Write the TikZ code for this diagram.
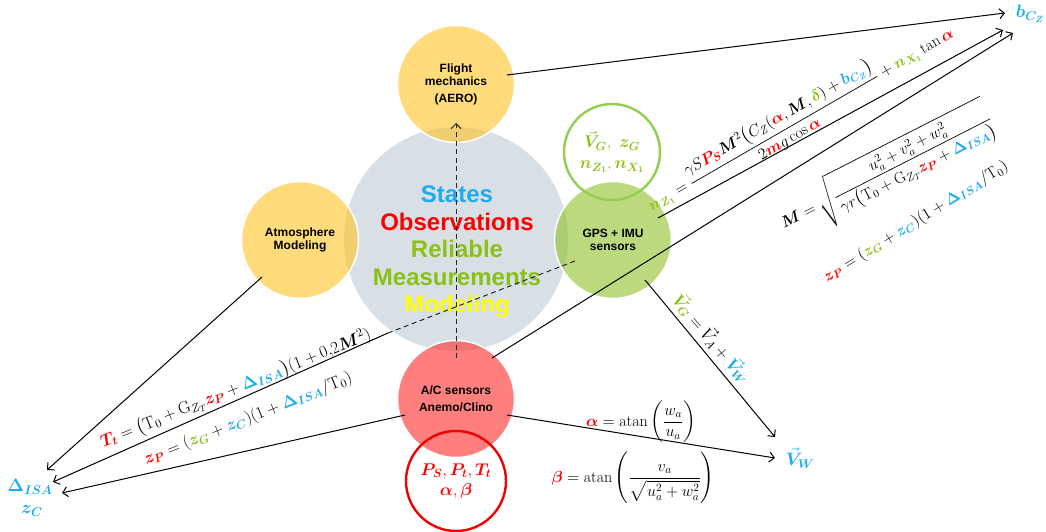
\RequirePackage{fix-cm}
\documentclass[tikz,border=0pt]{standalone}
\usepackage{amsmath}
\usepackage{fontspec}
\usepackage{bm}
\newfontfamily\arialf{Liberation Sans}
\usetikzlibrary{arrows.meta}
\definecolor{cblue}{RGB}{30,172,240}
\definecolor{cred}{RGB}{255,0,0}
\definecolor{cgreen}{RGB}{140,192,22}
\definecolor{cyell}{RGB}{255,255,0}
\definecolor{coregray}{RGB}{216,224,230}
\definecolor{byel}{RGB}{255,195,37}
\definecolor{bgrn}{RGB}{145,193,40}
\definecolor{bred}{RGB}{255,42,42}
\definecolor{ringg}{RGB}{146,206,80}
\definecolor{ringr}{RGB}{240,0,0}
\newcommand{\cR}[1]{{\color{cred}#1}}
\newcommand{\cB}[1]{{\color{cblue}#1}}
\newcommand{\cG}[1]{{\color{cgreen}#1}}
\begin{document}
\begin{tikzpicture}[x=1pt,y=-1pt,
  bub/.style={circle,inner sep=0pt,minimum size=117pt,draw=white,line width=1.5pt,fill opacity=0.6,text opacity=1,align=center,font=\arialf\bfseries\fontsize{12}{13.5}\selectfont},
  ringc/.style={circle,inner sep=0pt,line width=2.4pt,align=center,font=\fontsize{17}{20}\selectfont},
  con/.style={draw=black,line width=1pt,-{Straight Barb[length=5pt,width=10pt,line width=1pt]}},
  dsh/.style={draw=black!85,line width=1pt,dash pattern=on 5pt off 3.5pt},
  mth/.style={inner sep=1pt,font=\fontsize{16}{19}\selectfont},
  mthl/.style={inner sep=1pt,font=\fontsize{17}{20}\selectfont},
  lab/.style={inner sep=1pt,text=cblue,font=\fontsize{18}{21}\selectfont}]
\fill[white] (0,0) rectangle (1046,532);
\useasboundingbox (0,0) rectangle (1046,532);

% circles
\node[circle,inner sep=0pt,minimum size=224pt,fill=coregray] (core) at (456,239) {};
\node[bub,fill=byel] (aero) at (456,84) {Flight\\mechanics\\[3pt](AERO)};
\node[bub,fill=byel] (atm) at (300,240) {Atmosphere\\Modeling};
\node[bub,fill=bgrn] (gps) at (613,240) {GPS + IMU\\sensors};
\node[bub,fill=bred] (acs) at (456,399) {A/C sensors\\[4pt]Anemo/Clino};
\node[ringc,draw=ringg,minimum size=96pt,text=cgreen] (gring) at (612,152) {$\vec{\bm V}_{\bm G},\ \bm{z_G}$\\[1pt]$\bm{n_{Z_1}},\bm{n_{X_1}}$};
\node[ringc,draw=ringr,minimum size=100pt,text=cred] (rring) at (456,481) {$\bm{P_S},\bm{P_t},\bm{T_t}$\\[0pt]$\bm\alpha,\bm\beta$};

% central text
\node[align=center,font=\arialf\bfseries\fontsize{24}{27.5}\selectfont] (coretxt) at (457,252)
  {{\color{cblue}States}\\{\color{cred}Observations}\\{\color{cgreen}Reliable}\\{\color{cgreen}Measurements}\\{\color{cyell}Modeling}};

% end labels
\node[lab] (bcz) at (1030,14) {$\bm{b_{C_Z}}$};
\node[lab] (disa) at (30,487) {$\bm{\Delta_{ISA}}$};
\node[lab] (zc) at (32,511) {$\bm{z_C}$};
\node[lab] (vw) at (800,458) {$\vec{\bm V}_{\bm W}$};

% anchor coordinates
\coordinate (aeroR) at (507,75);
\coordinate (aeroB) at (456,123);
\coordinate (gpsA) at (658,218);
\coordinate (gpsB) at (645,280);
\coordinate (gpsC) at (575,261);
\coordinate (mid) at (388,333);
\coordinate (atmA) at (262,277);
\coordinate (acA) at (492,358);
\coordinate (acB) at (507,415);
\coordinate (acC) at (405,415);
\coordinate (acD) at (456,358);
\coordinate (tipB1) at (1005,13);
\coordinate (tipB2) at (1003,30);
\coordinate (tipB3) at (1013,33);
\coordinate (tipW1) at (775,437);
\coordinate (tipW2) at (775,458);
\coordinate (tipD1) at (47,470);
\coordinate (tipD2) at (53,482);
\coordinate (tipZ) at (62,493);

% connectors
\draw[con] (aeroR) -- (tipB1);
\draw[con] (gpsA) -- (tipB2);
\draw[con] (acA) -- (tipB3);
\draw[con] (gpsB) -- (tipW1);
\draw[con] (acB) -- (tipW2);
\draw[con] (atmA) -- (tipD1);
\draw[dsh] (gpsC) -- (mid);
\draw[con] (mid) -- (tipD2);
\draw[con] (acC) -- (tipZ);
\draw[dsh,-{Straight Barb[length=5pt,width=10pt,line width=1pt]}] (acD) -- (aeroB);

% formulas
\node[mth,rotate=30] (fnz) at (800,118) {$\cG{\bm{n_{Z_1}}}=\dfrac{\gamma S\cR{\bm{P_S}}\bm M^2\bigl(C_Z(\cR{\bm\alpha},\bm M,\cG{\bm\delta})+\cB{\bm{b_{C_Z}}}\bigr)}{2\cR{\bm m}g\cos\cR{\bm\alpha}}+\cG{\bm{n_{X_1}}}\tan\cR{\bm\alpha}$};
\node[mth,rotate=27] (fm) at (887,172) {$\bm M=\sqrt{\dfrac{u_a^2+v_a^2+w_a^2}{\gamma r\bigl(\mathrm T_0+\mathrm G_{Z_T}\cR{\bm{z_P}}+\cB{\bm{\Delta_{ISA}}}\bigr)}}$};
\node[mth,rotate=32] (fzr) at (916,222) {$\cR{\bm{z_P}}=(\cG{\bm{z_G}}+\cB{\bm{z_C}})(1+\cB{\bm{\Delta_{ISA}}}/\mathrm T_0)$};
\node[mthl,rotate=22] (ftt) at (236,389) {$\cR{\bm{T_t}}=\bigl(\mathrm T_0+\mathrm G_{Z_T}\cR{\bm{z_P}}+\cB{\bm{\Delta_{ISA}}}\bigr)(1+0{,}2\bm M^2)$};
\node[mthl,rotate=22] (fzl) at (248,419) {$\cR{\bm{z_P}}=(\cG{\bm{z_G}}+\cB{\bm{z_C}})(1+\cB{\bm{\Delta_{ISA}}}/\mathrm T_0)$};
\node[mthl,rotate=-50] (fvg) at (712,338) {$\cG{\vec{\bm V}_{\bm G}}=\vec V_A+\cB{\vec{\bm V}_{\bm W}}$};
\node[mth] (fal) at (641,422) {$\cR{\bm\alpha}=\mathrm{atan}\left(\dfrac{w_a}{u_a}\right)$};
\node[mth] (fbe) at (633,478) {$\cR{\bm\beta}=\mathrm{atan}\left(\dfrac{v_a}{\sqrt{u_a^2+w_a^2}}\right)$};
\end{tikzpicture}
\end{document}
